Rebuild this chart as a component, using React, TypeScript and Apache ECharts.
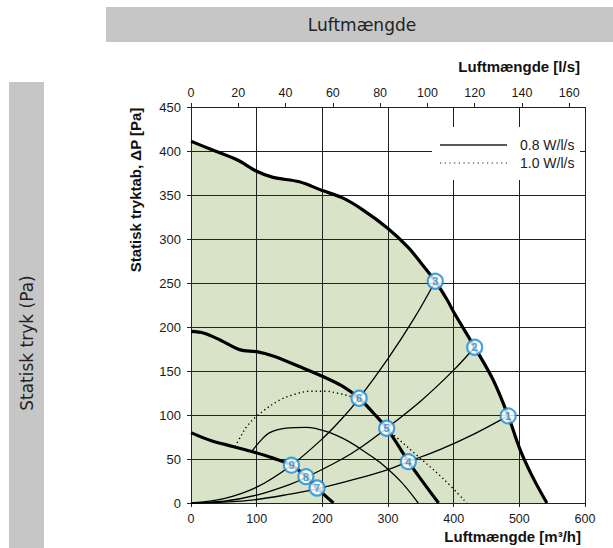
import React, { useEffect, useRef } from "react";
import * as echarts from "echarts";

// Fan curves (x: m³/h, y: Pa)
const fanMax: [number, number][] = [[0,411],[30,402],[70,390],[100,377],[125,370],[165,365],[200,355],[230,347],[260,334],[300,312],[330,291],[350,273],[372,252],[390,231],[400,217],[432,177],[460,140],[483,99],[501,61],[520,30],[542,0]];
const fanMid: [number, number][] = [[0,195],[20,193],[45,185],[75,174],[100,172],[125,167],[165,155],[200,144],[230,133],[256,119],[278,102],[298,85],[315,66],[331,47],[355,22],[377,0]];
const fanMin: [number, number][] = [[0,80],[30,71],[65,64],[95,58],[125,51],[153,43],[175,30],[192,17],[217,0]];
const fanThin: [number, number][] = [[93,59],[105,70],[120,80],[145,85],[176,86],[207,81],[240,70],[265,58],[288,46],[320,24],[346,0]];
const fanDotted: [number, number][] = [[67,64],[76,76],[85,87],[102,100],[135,117],[160,124],[181,127],[205,127],[222,125],[247,120],[262,114],[280,100],[300,84],[311,76],[349,51],[385,27],[420,0]];

// System curves
const sysA: [number, number][] = [[0,0],[50,1],[100,4],[150,10],[192,16],[250,27],[300,38],[331,47],[380,61],[430,78],[483,99]];
const sysB: [number, number][] = [[0,0],[50,2],[100,9],[150,21],[175,29],[230,50],[260,64],[298,85],[350,116],[400,151],[432,177]];
const sysC: [number, number][] = [[0,0],[50,5],[100,18],[153,43],[200,73],[230,96],[256,119],[300,164],[340,210],[372,252]];

// Operating points
const pointLabels = ["1","2","3","4","5","6","7","8","9"];
const pointX = [483, 432, 372, 331, 298, 256, 192, 175, 153];
const pointY = [99, 177, 252, 47, 85, 119, 17, 30, 43];

// Axes
const xMin = 0, xMax = 600, xInterval = 100;
const yMin = 0, yMax = 450, yInterval = 50;
const lsMax = 600 / 3.6, lsInterval = 20;

const legendLabels = ["0.8 W/l/s", "1.0 W/l/s"];

const BLUE = "#1a8cd8";
const GRID = "#222";
const FONT = "'Liberation Sans', Arial, sans-serif";

export default function App() {
  const ref = useRef<HTMLDivElement>(null);
  useEffect(() => {
    if (!ref.current) return;
    const chart = echarts.init(ref.current, undefined, { renderer: "svg" });
    const thick = (data: [number, number][]) => ({
      type: "line", data, showSymbol: false, smooth: 0.35, z: 5,
      lineStyle: { color: "#000", width: 3.2 }, silent: true,
    });
    const thin = (data: [number, number][], dotted = false) => ({
      type: "line", data, showSymbol: false, smooth: 0.35, z: 5,
      lineStyle: { color: "#000", width: dotted ? 1.4 : 1.3, type: dotted ? [1.3, 3] : "solid" }, silent: true,
    });
    chart.setOption({
      animation: false,
      grid: { left: 191, top: 107, width: 394, height: 396, outerBoundsMode: "none", containLabel: false },
      xAxis: [
        {
          type: "value", min: xMin, max: xMax, interval: xInterval, position: "bottom", z: 3,
          axisLine: { show: true, onZero: false, lineStyle: { color: GRID, width: 1 } },
          axisTick: { show: true, inside: false, length: 4, lineStyle: { color: GRID } },
          axisLabel: { color: "#1a1a1a", fontSize: 12.5, fontFamily: FONT, margin: 9 },
          splitLine: { show: true, lineStyle: { color: GRID, width: 1 } },
        },
        {
          type: "value", min: 0, max: lsMax, interval: lsInterval, position: "top", z: 3,
          axisLine: { show: true, onZero: false, lineStyle: { color: GRID, width: 1 } },
          axisTick: { show: true, inside: false, length: 4, lineStyle: { color: GRID } },
          axisLabel: { color: "#1a1a1a", fontSize: 12.5, fontFamily: FONT, margin: 8, showMaxLabel: false },
          splitLine: { show: false },
        },
      ],
      yAxis: {
        type: "value", min: yMin, max: yMax, interval: yInterval, z: 3,
        axisLine: { show: true, lineStyle: { color: GRID, width: 1 } },
        axisTick: { show: true, inside: false, length: 4, lineStyle: { color: GRID } },
        axisLabel: { color: "#1a1a1a", fontSize: 13, fontFamily: FONT, margin: 10 },
        splitLine: { show: true, lineStyle: { color: GRID, width: 1 } },
      },
      series: [
        {
          type: "line", data: fanMax, showSymbol: false, smooth: 0.35, z: 1, silent: true,
          lineStyle: { width: 0, color: "transparent" },
          areaStyle: { color: "#d8e3c8", opacity: 1 },
        },
        thick(fanMax),
        thick(fanMid),
        thick(fanMin),
        thin(fanThin),
        thin(fanDotted, true),
        thin(sysA),
        thin(sysB),
        thin(sysC),
        {
          type: "scatter", z: 8, symbol: "circle", symbolSize: 15,
          data: pointLabels.map((n, i) => ({ name: n, value: [pointX[i], pointY[i]] })),
          itemStyle: { color: "#fff", borderColor: BLUE, borderWidth: 2.2 },
          label: { show: true, position: "inside", formatter: "{b}", color: BLUE, fontSize: 11, fontWeight: "bold", fontFamily: FONT },
        },
      ],
      graphic: [
        { type: "rect", z: 100, shape: { x: 106, y: 7, width: 507, height: 35 }, style: { fill: "#c6c6c6" } },
        { type: "text", z: 101, x: 362, y: 25, style: { text: "Luftmængde", fill: "#222", font: "17px 'DejaVu Sans', sans-serif", textAlign: "center", textVerticalAlign: "middle" } },
        { type: "rect", z: 100, shape: { x: 9, y: 82, width: 35, height: 466 }, style: { fill: "#c6c6c6" } },
        { type: "text", z: 101, x: 27, y: 343, rotation: Math.PI / 2, style: { text: "Statisk tryk (Pa)", fill: "#222", font: "17px 'DejaVu Sans', sans-serif", textAlign: "center", textVerticalAlign: "middle" } },
        { type: "text", z: 101, x: 580, y: 66, style: { text: "Luftmængde [l/s]", fill: "#111", font: "bold 15px " + FONT, textAlign: "right", textVerticalAlign: "middle" } },
        { type: "text", z: 101, x: 581, y: 536, style: { text: "Luftmængde [m³/h]", fill: "#111", font: "bold 15px " + FONT, textAlign: "right", textVerticalAlign: "middle" } },
        { type: "text", z: 101, x: 135, y: 190, rotation: Math.PI / 2, style: { text: "Statisk tryktab, ΔP [Pa]", fill: "#111", font: "bold 15px " + FONT, textAlign: "center", textVerticalAlign: "middle" } },
        { type: "rect", z: 100, shape: { x: 432, y: 127, width: 148, height: 53 }, style: { fill: "#fff" } },
        { type: "line", z: 101, shape: { x1: 440, y1: 145, x2: 507, y2: 145 }, style: { stroke: "#222", lineWidth: 1.5 } },
        { type: "line", z: 101, shape: { x1: 440, y1: 163, x2: 507, y2: 163 }, style: { stroke: "#222", lineWidth: 1.2, lineDash: [1.2, 3.5] } },
        { type: "text", z: 101, x: 520, y: 145, style: { text: legendLabels[0], fill: "#222", font: "14px " + FONT, textAlign: "left", textVerticalAlign: "middle" } },
        { type: "text", z: 101, x: 520, y: 163, style: { text: legendLabels[1], fill: "#222", font: "14px " + FONT, textAlign: "left", textVerticalAlign: "middle" } },
      ],
    });
    return () => chart.dispose();
  }, []);
  return <div ref={ref} style={{ position: "fixed", left: 0, top: 0, width: 613, height: 548, background: "#fff" }} />;
}
